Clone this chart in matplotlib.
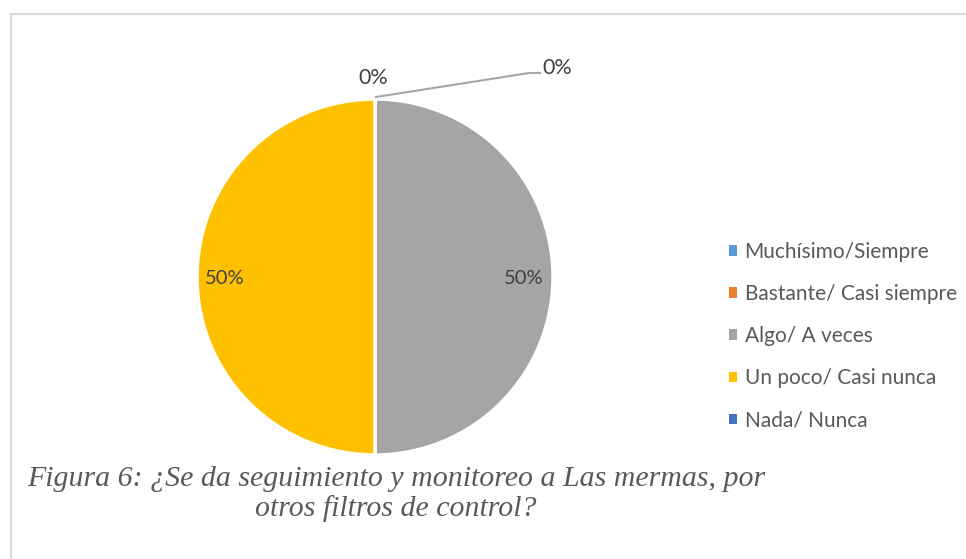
import matplotlib.pyplot as plt
from matplotlib.patches import Patch

# datos de la encuesta
categorias = ['Muchísimo/Siempre', 'Bastante/ Casi siempre', 'Algo/ A veces',
              'Un poco/ Casi nunca', 'Nada/ Nunca']
valores = [0, 0, 50, 50, 0]
colores = ['#5B9BD5', '#ED7D31', '#A5A5A5', '#FFC000', '#4472C4']
titulo = 'Figura 6: ¿Se da seguimiento y monitoreo a Las mermas, por\notros filtros de control?'

W, H = 966, 559
fig = plt.figure(figsize=(W/100, H/100), dpi=100)
ax = fig.add_axes([0, 0, 1, 1])

# marco del grafico
ax.plot([11, 11, W+5], [-5, H-14, H-14], color='#D9D9D9', lw=1.5)

cx, cy, r = 375, H-277, 178
total = sum(valores)
# pie sin las porciones vacias
vals = [v for v in valores if v > 0]
cols = [c for v, c in zip(valores, colores) if v > 0]
ax.pie(vals, colors=cols, startangle=90, counterclock=False, center=(cx, cy),
       radius=r, wedgeprops=dict(edgecolor='white', linewidth=2.5), frame=True)
ax.set_xlim(0, W)
ax.set_ylim(0, H)
ax.set_aspect('equal')
ax.axis('off')

fnt = 'Lato'
lblcol = '#404040'
ax.text(524, H-279, '%d%%' % (100*valores[2]/total), ha='center', va='center',
        fontsize=14.5, color=lblcol, family=fnt)
ax.text(225, H-279, '%d%%' % (100*valores[3]/total), ha='center', va='center',
        fontsize=14.5, color=lblcol, family=fnt)
ax.text(373, H-78, '%d%%' % valores[0], ha='center', va='center',
        fontsize=15.5, color=lblcol, family=fnt)
ax.plot([376, 529, 540], [H-97, H-73, H-73], color='#A6A6A6', lw=1.5)
ax.text(542, H-68, '%d%%' % valores[1], ha='left', va='center',
        fontsize=15.5, color=lblcol, family=fnt)

handles = [Patch(facecolor=c, edgecolor='none') for c in colores]
leg = ax.legend(handles, categorias, loc='upper left', bbox_to_anchor=(729/W, 1-242/H),
                frameon=False, handlelength=0.4, handleheight=0.4, handletextpad=0.35,
                labelspacing=1.06, borderpad=0, borderaxespad=0,
                prop={'family': fnt, 'size': 15})
for t in leg.get_texts():
    t.set_color('#595959')

ax.text(396, H-494, titulo, ha='center', va='center', fontsize=21.5, style='italic',
        family='Liberation Serif', color='#595959', linespacing=1.18)

fig.savefig('out.png', dpi=100)
